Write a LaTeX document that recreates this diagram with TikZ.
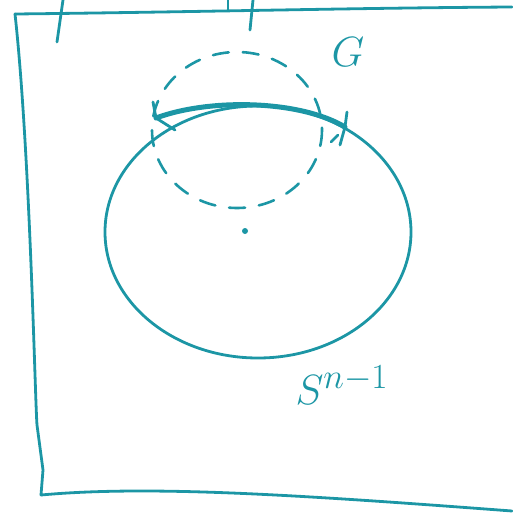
\documentclass[tikz,border=0pt]{standalone}
\usetikzlibrary{arrows.meta}
\definecolor{ink}{RGB}{28,150,165}
\begin{document}
\begin{tikzpicture}[x=1pt,y=-1pt,
  pen/.style={draw=ink,line width=2.8pt,line cap=round,line join=round},
  thick pen/.style={pen,line width=5pt},
  dash pen/.style={pen,line width=2.6pt,dash pattern=on 16pt off 14pt},
  lab/.style={text=ink,inner sep=0pt,font=\Huge,scale=1.7}]
\useasboundingbox (0,0) rectangle (512,517);
% frame
\draw[pen] (15,14) .. controls (200,12) and (350,8) .. (512,7);
\draw[pen] (15,14) .. controls (30,150) and (35,400) .. (37,425) -- (43,470) -- (41,495);
\draw[pen] (41,495) .. controls (150,485) and (300,495) .. (512,511);
% top ticks
\draw[pen] (57,42) -- (63,0);
\draw[pen] (228,10) -- (228,0);
\draw[pen] (250,30) -- (253,0);
% sphere
\coordinate (c) at (258,232);
\draw[pen] (c) ellipse [x radius=153, y radius=126];
% thick arc on top
\coordinate (a) at (156,118);
\coordinate (b) at (345,127);
\draw[thick pen] (a) .. controls (210,98) and (300,100) .. (b);
\draw[pen] (a) -- (153,102) (a) -- (175,130);
\draw[pen] (b) -- (347,112) (b) -- (340,145) (338,135) -- (331,142);
% dashed ellipse (group orbit)
\draw[dash pen] (237,130) ellipse [x radius=85, y radius=78];
% centre dot
\node[fill=ink,circle,inner sep=0pt,minimum size=6pt] (o) at (245,231) {};
% labels
\node[lab] (G) at (348,52) {$G$};
\node[lab] (S) at (342,385) {$S^{n-1}$};
\end{tikzpicture}
\end{document}
